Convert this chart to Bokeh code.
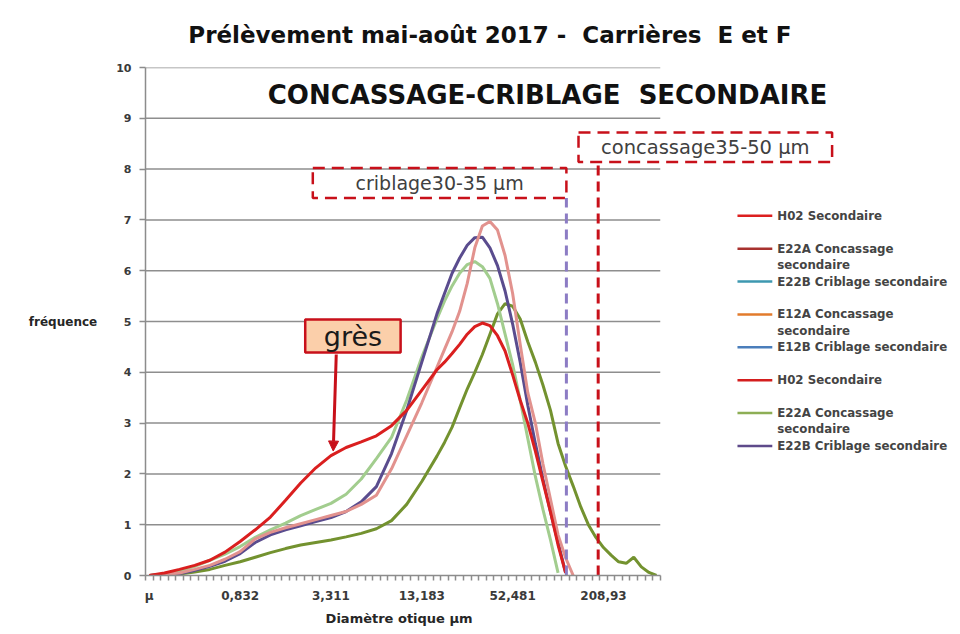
from bokeh.plotting import figure
from bokeh.models import Range1d, FixedTicker, Arrow, NormalHead, LinearAxis
from bokeh.embed import file_html
from bokeh.resources import INLINE
from bokeh.core.properties import value

NaN = float("nan")
NB = "\u00a0"

# ---------------- data ----------------
# class index of the laser-granulometry size classes (category positions)
class_idx = [0, 2, 4, 6, 8, 10, 12, 14, 16, 18, 20, 22, 24, 26, 28, 30, 32, 34, 36, 38,
             39, 40, 41, 42, 43, 44, 45, 46, 47, 48, 49, 50, 51, 52, 53, 54, 55, 56, 57,
             58, 59, 60, 61, 62, 63, 64, 65, 66, 67]
n_classes = 68
tick_pos = [0, 12, 24, 36, 48, 60]
tick_labels = ["µ", "0,832", "3,311", "13,183", "52,481", "208,93"]
freq_ticks = [0, 1, 2, 3, 4, 5, 6, 7, 8, 9, 10]

h02_sec = [0, 0.05, 0.12, 0.2, 0.3, 0.46, 0.67, 0.9, 1.15, 1.48, 1.82, 2.12, 2.36, 2.52, 2.63, 2.75, 2.95, 3.25, 3.65, 4.05,
           4.2, 4.37, 4.55, 4.75, 4.9, 4.97, 4.92, 4.72, 4.42, 3.95, 3.45, 3.0, 2.45, 1.85, 1.25, 0.6, 0.05, NaN, NaN,
           NaN, NaN, NaN, NaN, NaN, NaN, NaN, NaN, NaN, NaN]
e12a_conc = [0, 0.02, 0.05, 0.12, 0.2, 0.32, 0.47, 0.72, 0.85, 0.94, 1.02, 1.1, 1.18, 1.26, 1.4, 1.58, 2.1, 2.75, 3.4, 4.1,
             4.45, 4.8, 5.2, 5.75, 6.45, 6.88, 6.97, 6.8, 6.3, 5.55, 4.55, 3.6, 3.0, 2.2, 1.5, 0.8, 0.35, 0.0, NaN,
             NaN, NaN, NaN, NaN, NaN, NaN, NaN, NaN, NaN, NaN]
e22b_crib = [0, 0.02, 0.04, 0.1, 0.18, 0.28, 0.43, 0.65, 0.8, 0.9, 0.98, 1.06, 1.14, 1.26, 1.45, 1.75, 2.4, 3.25, 4.2, 5.15,
             5.55, 5.95, 6.25, 6.5, 6.65, 6.66, 6.45, 6.1, 5.6, 4.95, 4.2, 3.35, 2.6, 1.9, 1.25, 0.65, 0.05, NaN, NaN,
             NaN, NaN, NaN, NaN, NaN, NaN, NaN, NaN, NaN, NaN]
e12b_crib = [0, 0.03, 0.09, 0.18, 0.3, 0.42, 0.57, 0.75, 0.9, 1.03, 1.18, 1.3, 1.42, 1.6, 1.9, 2.3, 2.72, 3.45, 4.3, 5.05,
             5.4, 5.7, 5.95, 6.12, 6.18, 6.08, 5.85, 5.35, 4.75, 4.15, 3.45, 2.7, 1.95, 1.3, 0.7, 0.05, NaN, NaN, NaN,
             NaN, NaN, NaN, NaN, NaN, NaN, NaN, NaN, NaN, NaN]
e22a_conc = [0, 0.01, 0.03, 0.07, 0.12, 0.2, 0.27, 0.36, 0.45, 0.53, 0.6, 0.65, 0.7, 0.76, 0.83, 0.92, 1.08, 1.4, 1.85, 2.35,
             2.62, 2.92, 3.3, 3.67, 4.0, 4.35, 4.75, 5.15, 5.35, 5.3, 5.05, 4.6, 4.2, 3.75, 3.25, 2.6, 2.15, 1.76, 1.35,
             1.0, 0.75, 0.55, 0.4, 0.27, 0.24, 0.36, 0.17, 0.06, 0.0]

curve_series = [e22a_conc, e12b_crib, e22b_crib, e12a_conc, h02_sec]
curve_colors = ["#73922F", "#A2CD8E", "#5A4C8E", "#E2928E", "#DA1F1F"]

legend_labels = [["H02 Secondaire"], ["E22A Concassage", "secondaire"], ["E22B Criblage secondaire"],
                 ["E12A Concassage", "secondaire"], ["E12B Criblage secondaire"], ["H02 Secondaire"],
                 ["E22A Concassage", "secondaire"], ["E22B Criblage secondaire"]]
legend_colors = ["#DC2020", "#A8322F", "#3E98B0", "#E27B2C", "#4A7EBB", "#D41E1E", "#8DAE55", "#5E4A8A"]

title_text = "Prélèvement mai-août 2017 -" + NB + " Carrières" + NB + " E et F"
x_title = "Diamètre otique µm"
y_title = "fréquence"
heading = "CONCASSAGE-CRIBLAGE" + NB + " SECONDAIRE"

# annotation ranges (class index / frequency)
crib_range = (21.6, 55.1)     # criblage 30-35 µm
conc_range = (56.7, 90.2)     # concassage 35-50 µm
crib_line_x = 55.1
conc_line_x = 59.3

# ---------------- figure ----------------
W, H = 952, 628
LEFT, TOP, BOTTOM = 145, 67, 577
px_per_class = 7.57
p = figure(width=W, height=H,
           x_range=Range1d(-0.5, -0.5 + (W - LEFT) / px_per_class), y_range=Range1d(0, 10),
           output_backend="svg", toolbar_location=None,
           min_border_left=LEFT, min_border_right=0, min_border_top=TOP, min_border_bottom=H - BOTTOM)
p.outline_line_color = None
p.xgrid.visible = False
p.ygrid.visible = False
p.background_fill_color = "white"
p.border_fill_color = "white"

axis_col = "#8C8C8C"
lab_col = "#3A3A3A"

# horizontal gridlines
gy = [t for t in freq_ticks if t > 0]
p.segment(x0=[-0.5] * len(gy), x1=[n_classes - 0.5] * len(gy), y0=gy, y1=gy,
          line_color="#8E8E8E", line_width=1.5)

# y axis
ya = p.yaxis[0]
ya.ticker = FixedTicker(ticks=freq_ticks, minor_ticks=[])
ya.bounds = (0, 10)
ya.axis_line_color = axis_col
ya.axis_line_width = 1.5
ya.major_tick_line_color = axis_col
ya.major_tick_line_width = 1.5
ya.major_tick_out = 6
ya.major_tick_in = 0
ya.minor_tick_out = 0
ya.major_label_standoff = 8
ya.major_label_text_font = "DejaVu Sans"
ya.major_label_text_font_style = "bold"
ya.major_label_text_font_size = "11px"
ya.major_label_text_color = lab_col
ya.axis_label = y_title
ya.axis_label_orientation = "horizontal"
ya.axis_label_text_font = "DejaVu Sans"
ya.axis_label_text_font_style = "bold"
ya.axis_label_text_font_size = "12px"
ya.axis_label_text_color = "#262626"
ya.axis_label_standoff = 16

# x axis
xa = p.xaxis[0]
xa.ticker = FixedTicker(ticks=tick_pos, minor_ticks=[i - 0.5 for i in range(n_classes + 1)])
xa.major_label_overrides = {t: l for t, l in zip(tick_pos, tick_labels)}
xa.bounds = (-0.5, n_classes - 0.5)
xa.axis_line_color = axis_col
xa.axis_line_width = 1.5
xa.major_tick_out = 0
xa.major_tick_in = 0
xa.minor_tick_out = 5
xa.minor_tick_in = 0
xa.minor_tick_line_color = axis_col
xa.minor_tick_line_width = 1.5
xa.major_label_standoff = 8
xa.major_label_text_font = "DejaVu Sans"
xa.major_label_text_font_style = "bold"
xa.major_label_text_font_size = "12px"
xa.major_label_text_color = lab_col

# x-axis title, as a second (line-less) axis below the first
x_title_pos = 33
xt = LinearAxis(ticker=FixedTicker(ticks=[x_title_pos], minor_ticks=[]),
                major_label_overrides={x_title_pos: x_title},
                axis_line_color=None, major_tick_line_color=None, minor_tick_line_color=None,
                major_tick_out=0, minor_tick_out=0, major_label_standoff=5,
                major_label_text_font="DejaVu Sans", major_label_text_font_style="bold",
                major_label_text_font_size="13px", major_label_text_color="#262626")
p.add_layout(xt, "below")

# chart title, as a line-less axis above the frame
title_pos = 45
tt = LinearAxis(ticker=FixedTicker(ticks=[title_pos], minor_ticks=[]),
                major_label_overrides={title_pos: title_text},
                axis_line_color=None, major_tick_line_color=None, minor_tick_line_color=None,
                major_tick_out=0, minor_tick_out=0, major_label_standoff=20,
                major_label_text_font="DejaVu Sans", major_label_text_font_style="bold",
                major_label_text_font_size="23px", major_label_text_color="#111111")
p.add_layout(tt, "above")

# curves
for ys, col in zip(curve_series, curve_colors):
    p.line(class_idx, ys, line_color=col, line_width=3)

# dashed boxes
p.quad(left=[crib_range[0]], right=[crib_range[1]], bottom=[7.43], top=[8.02],
       fill_color=None, line_color="#C8101A", line_width=2.5, line_dash="12 7")
p.quad(left=[conc_range[0]], right=[conc_range[1]], bottom=[8.14], top=[8.72],
       fill_color=None, line_color="#C8101A", line_width=2.5, line_dash="12 7")
# dashed vertical limits
p.segment(x0=[crib_line_x], x1=[crib_line_x], y0=[0], y1=[7.43],
          line_color="#8C7CC4", line_width=3, line_dash="10 6")
p.segment(x0=[conc_line_x], x1=[conc_line_x], y0=[0], y1=[8.14],
          line_color="#C8101A", line_width=3, line_dash="10 6")

p.text(x=[sum(crib_range) / 2], y=[7.72], text=["criblage30-35 µm"], text_align="center",
       text_baseline="middle", text_font=value("DejaVu Sans"), text_font_size="19px", text_color="#404040")
p.text(x=[sum(conc_range) / 2], y=[8.43], text=["concassage35-50 µm"], text_align="center",
       text_baseline="middle", text_font=value("DejaVu Sans"), text_font_size="19.5px", text_color="#404040")

# section heading
p.text(x=[52.6], y=[9.45], text=[heading], text_align="center",
       text_baseline="middle", text_font=value("DejaVu Sans"), text_font_style="bold",
       text_font_size="26px", text_color="#111111")

# "grès" callout
p.quad(left=[20.6], right=[33.2], bottom=[4.39], top=[5.04], fill_color="#FBCFAA",
       line_color="#C8101A", line_width=2.5)
p.text(x=[26.9], y=[4.7], text=["grès"], text_align="center", text_baseline="middle",
       text_font=value("DejaVu Sans"), text_font_size="27px", text_color="#1A1A1A")
p.add_layout(Arrow(end=NormalHead(size=10, fill_color="#C8101A", line_color="#C8101A"),
                   x_start=24.7, y_start=4.35, x_end=24.3, y_end=2.45,
                   line_color="#C8101A", line_width=3))

# legend (drawn manually)
row_step = 33 / 51.0
sub_step = 16.5 / 51.0
y0 = 7.08
lx0, lx1, tx = 77.7, 82.3, 82.96
for k, (labs, col) in enumerate(zip(legend_labels, legend_colors)):
    yy = y0 - k * row_step
    p.segment(x0=[lx0], x1=[lx1], y0=[yy], y1=[yy], line_color=col, line_width=2.5)
    for j, lab in enumerate(labs):
        p.text(x=[tx], y=[yy - j * sub_step], text=[lab], text_baseline="middle",
               text_font=value("DejaVu Sans"), text_font_style="bold", text_font_size="11.8px",
               text_color="#444444")

open("out.html", "w").write(file_html(p, INLINE))
